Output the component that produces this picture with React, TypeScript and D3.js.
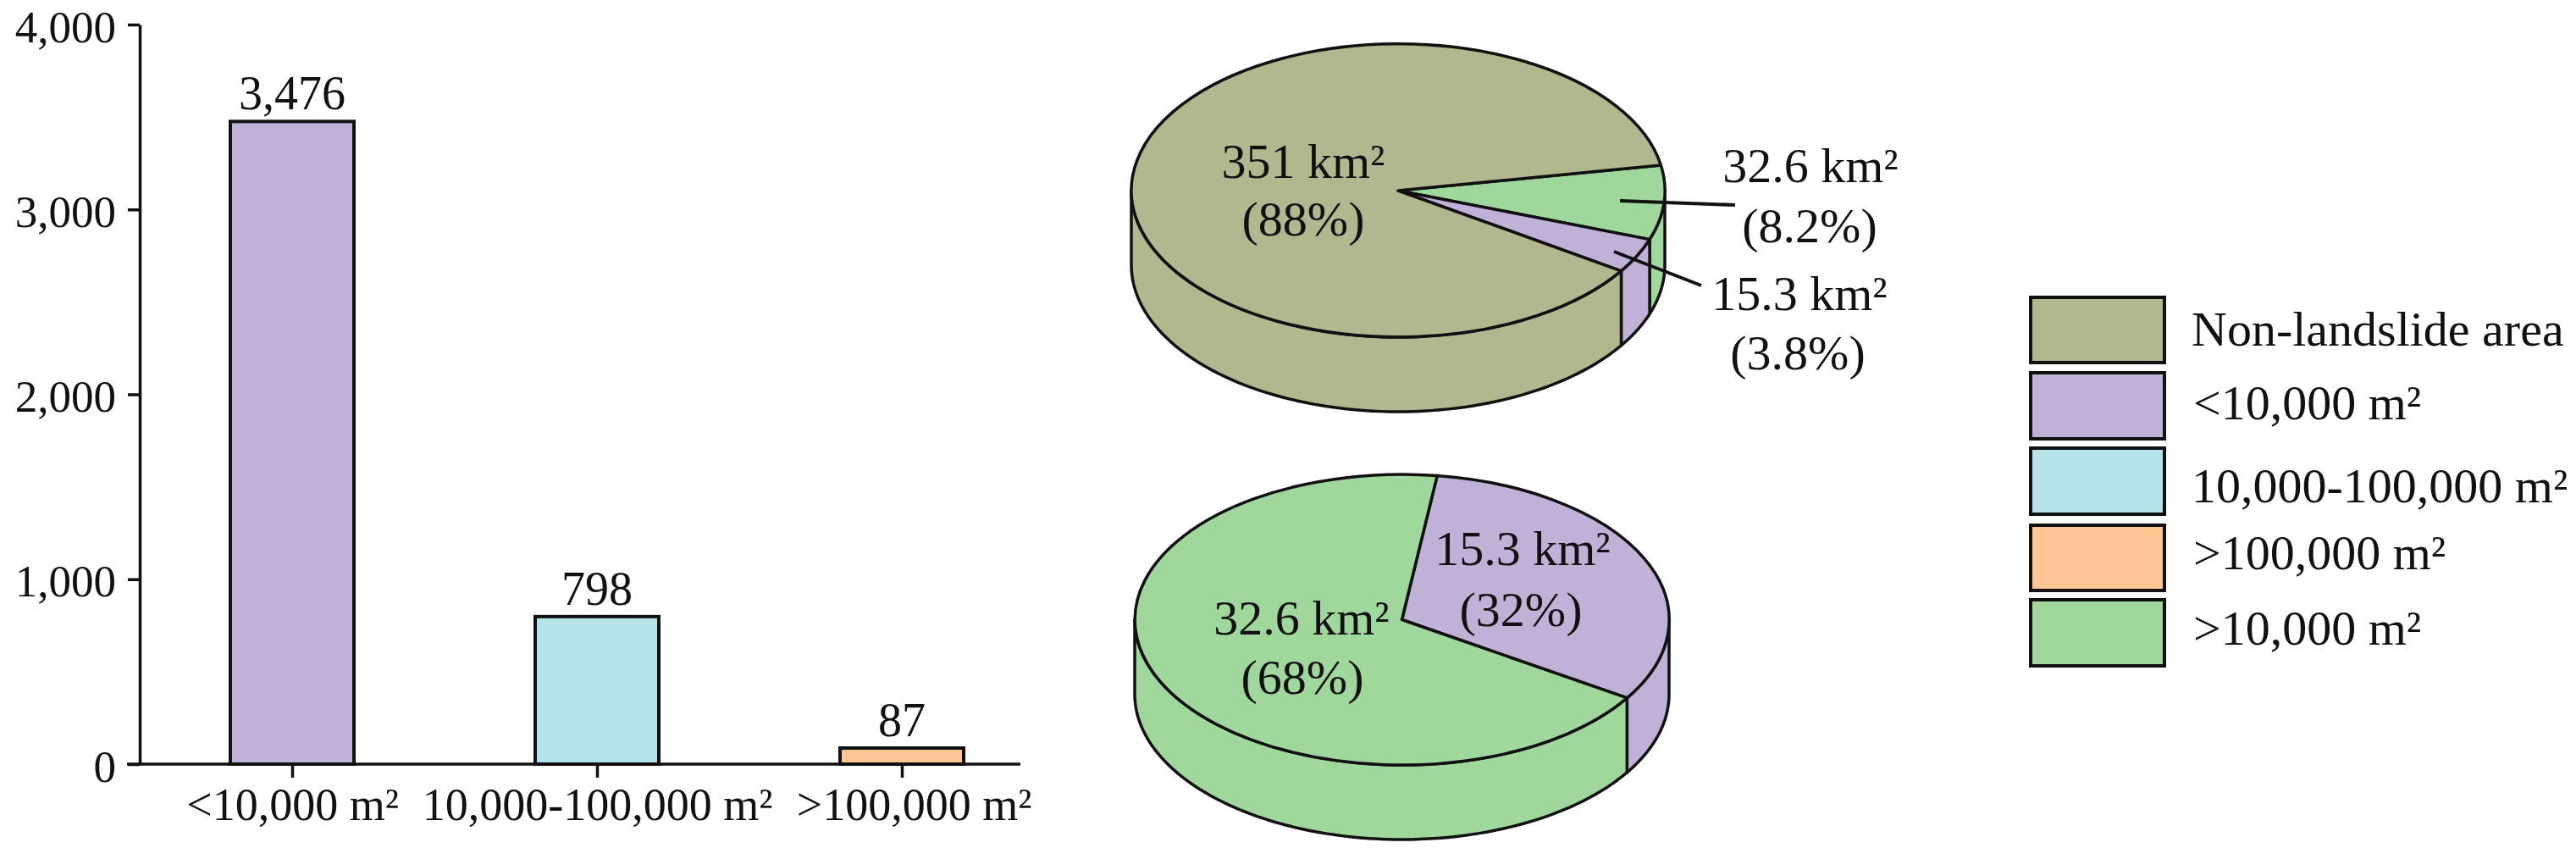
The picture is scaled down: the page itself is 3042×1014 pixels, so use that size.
import React, { useEffect, useRef } from "react";
import * as d3 from "d3";

const barCategories = ["<10,000 m²", "10,000-100,000 m²", ">100,000 m²"];
const barValues = [3476, 798, 87];
const barColors = ["#c0b1d6", "#b4e4ea", "#fcc793"];
const yTicks = [0, 1000, 2000, 3000, 4000];

const pieTopValues = [32.6, 15.3, 351];
const pieTopColors = ["#a0d79d", "#c0b1d6", "#b1b78f"];
const pieBottomValues = [15.3, 32.6];
const pieBottomColors = ["#c0b1d6", "#a0d79d"];

const legendLabels = ["Non-landslide area", "<10,000 m²", "10,000-100,000 m²", ">100,000 m²", ">10,000 m²"];
const legendColors = ["#b1b78f", "#c0b1d6", "#b4e4ea", "#fcc793", "#a0d79d"];
const legendBoxes = [[351, 428], [440, 518], [529, 607], [620, 697], [708, 786]];
const legendBase = [408, 495, 593, 672, 761];
const legendTextX = [2588, 2590, 2588, 2590, 2590];

const pieLabels: [string, number, number][] = [
  ["351 km²", 1539, 210], ["(88%)", 1539, 278],
  ["32.6 km²", 2138, 215], ["(8.2%)", 2137, 286],
  ["15.3 km²", 2125, 366], ["(3.8%)", 2123, 436],
  ["15.3 km²", 1798, 667], ["(32%)", 1796, 739],
  ["32.6 km²", 1537, 749], ["(68%)", 1538, 819],
];
const leaders = [[1913, 237, 2049, 242], [1906, 297, 2009, 337]];

const FONT = "'Liberation Serif', serif";
const SW = 3.5;
const deg = Math.PI / 180;

const y = d3.scaleLinear().domain([0, 4000]).range([902, 29]);
const x = d3.scalePoint<string>().domain(barCategories).range([345, 1065]);
const BAR_W = 146;

function Pie3D({ values, colors, startDeg, cx, cy, rx, ry, depth }: any) {
  const slices = d3.pie<number>().sort(null).startAngle(startDeg * deg).endAngle(startDeg * deg + 2 * Math.PI)(values);
  const arc = d3.arc<any>().innerRadius(0).outerRadius(1);
  const line = d3.line();
  const walls = slices.map((s: any, i: number) => {
    const a0 = Math.max(s.startAngle, Math.PI / 2);
    const a1 = Math.min(s.endAngle, (3 * Math.PI) / 2);
    if (a1 <= a0) return null;
    const n = 80;
    const aa = d3.range(n + 1).map((k) => a0 + ((a1 - a0) * k) / n);
    const top = aa.map((a) => [cx + rx * Math.sin(a), cy - ry * Math.cos(a)] as [number, number]);
    const bottom = top.map((p) => [p[0], p[1] + depth] as [number, number]).reverse();
    return <path key={i} d={line([...top, ...bottom])! + "Z"} fill={colors[i]} stroke="#111" strokeWidth={SW} strokeLinejoin="round" />;
  });
  return (
    <g>
      {walls}
      <g transform={`translate(${cx},${cy}) scale(${rx},${ry})`}>
        {slices.map((s: any, i: number) => (
          <path key={i} d={arc(s)!} fill={colors[i]} stroke="#111" strokeWidth={SW} vectorEffect="non-scaling-stroke" strokeLinejoin="round" />
        ))}
      </g>
    </g>
  );
}

export default function App() {
  const yRef = useRef<SVGGElement>(null);
  const xRef = useRef<SVGGElement>(null);

  useEffect(() => {
    const gy = d3.select(yRef.current!);
    gy.call(d3.axisLeft(y).tickValues(yTicks).tickFormat(d3.format(",") as any).tickSize(14).tickPadding(14).tickSizeOuter(0) as any);
    gy.select(".domain").attr("stroke", "#111").attr("stroke-width", SW);
    gy.selectAll(".tick line").attr("stroke", "#111").attr("stroke-width", SW);
    gy.selectAll(".tick text").attr("font-family", FONT).attr("font-size", 53).attr("fill", "#111").attr("dy", 20).attr("x", -28);
    gy.attr("font-family", FONT);

    const gx = d3.select(xRef.current!);
    gx.call(d3.axisBottom(x).tickSize(16).tickSizeOuter(0) as any);
    gx.select(".domain").remove();
    gx.selectAll(".tick line").attr("stroke", "#111").attr("stroke-width", SW);
    gx.selectAll(".tick text")
      .attr("font-family", FONT).attr("font-size", 54).attr("fill", "#111")
      .attr("dy", 0).attr("y", 66)
      .attr("x", (_: any, i: number) => (i === 2 ? 14 : 0));
    gx.attr("font-family", FONT);
  }, []);

  return (
    <svg width={3042} height={1014} style={{ position: "absolute", left: 0, top: 0, background: "#fff" }} fontFamily={FONT} fill="#111">
      {barValues.map((v, i) => {
        const cxb = x(barCategories[i])!;
        return (
          <g key={i}>
            <rect x={cxb - BAR_W / 2} y={y(v)} width={BAR_W} height={y(0) - y(v)} fill={barColors[i]} stroke="#111" strokeWidth={4} />
            <text x={cxb} y={y(v) - 14} textAnchor="middle" fontSize={56}>{d3.format(",")(v)}</text>
          </g>
        );
      })}
      <g ref={yRef} transform="translate(165,0)" />
      <line x1={150} x2={1205} y1={y(0)} y2={y(0)} stroke="#111" strokeWidth={SW} />
      <g ref={xRef} transform={`translate(0,${y(0)})`} />

      <Pie3D values={pieTopValues} colors={pieTopColors} startDeg={80} cx={1651} cy={225} rx={315} ry={173} depth={88} />
      <Pie3D values={pieBottomValues} colors={pieBottomColors} startDeg={7.6} cx={1655.5} cy={731.5} rx={315.5} ry={171.5} depth={88} />
      {leaders.map((l, i) => (
        <line key={i} x1={l[0]} y1={l[1]} x2={l[2]} y2={l[3]} stroke="#111" strokeWidth={4} />
      ))}
      {pieLabels.map((l, i) => (
        <text key={i} x={l[1]} y={l[2]} textAnchor="middle" fontSize={58}>{l[0]}</text>
      ))}

      {legendLabels.map((t, i) => (
        <g key={i}>
          <rect x={2398} y={legendBoxes[i][0]} width={158} height={legendBoxes[i][1] - legendBoxes[i][0]} fill={legendColors[i]} stroke="#111" strokeWidth={4} />
          <text x={legendTextX[i]} y={legendBase[i]} fontSize={58}>{t}</text>
        </g>
      ))}
    </svg>
  );
}
